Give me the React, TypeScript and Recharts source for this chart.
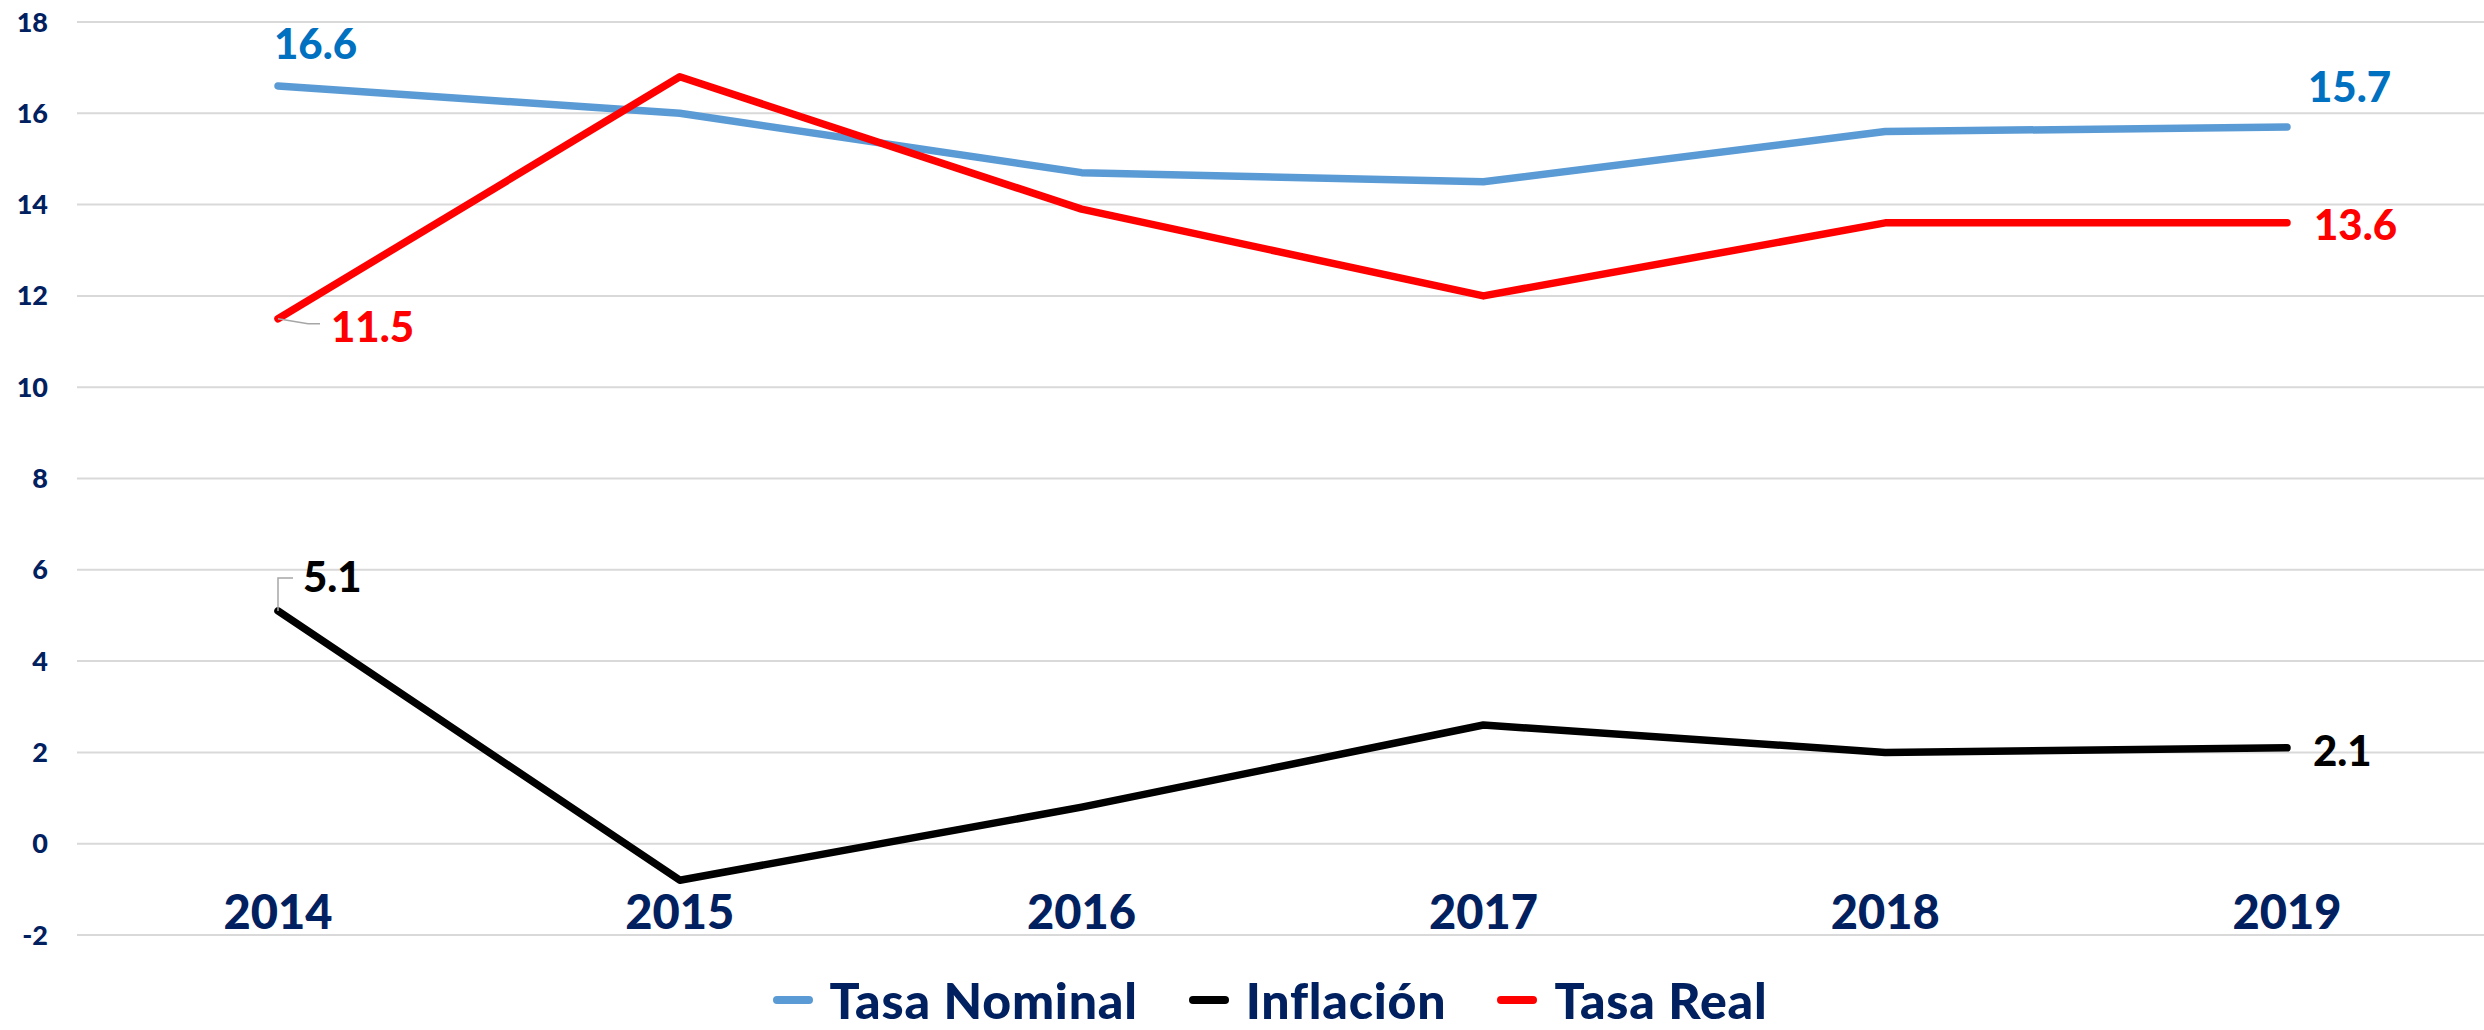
import React from 'react';
import { LineChart, Line, XAxis, YAxis, CartesianGrid, Legend, LabelList } from 'recharts';

const years = ['2014', '2015', '2016', '2017', '2018', '2019'];
const tasaNominal = [16.6, 16.0, 14.7, 14.5, 15.6, 15.7];
const inflacion = [5.1, -0.8, 0.8, 2.6, 2.0, 2.1];
const tasaReal = [11.5, 16.8, 13.9, 12.0, 13.6, 13.6];
const yTicks = [-2, 0, 2, 4, 6, 8, 10, 12, 14, 16, 18];

const data = years.map((y, i) => ({
  year: y,
  nominal: tasaNominal[i],
  inflacion: inflacion[i],
  real: tasaReal[i],
}));

const FONT = 'Lato, "Open Sans", sans-serif';
const NAVY = '#002060';
const W = 900;

type LabelSpec = { dx: number; dy: number; leader?: string };

// leader spec: "dx1,dy1 dx2,dy2 ..." relative to the point
function buildPath(spec: string, x: number, y: number) {
  const pts = spec.split(' ').map((p) => p.split(',').map(Number));
  return `M${x},${y} ` + pts.map(([a, b]) => `L${x + a},${y + b}`).join(' ');
}

const makeLabel = (color: string, specs: Record<number, LabelSpec>) => (props: any) => {
  const { x, y, index, value } = props;
  const s = specs[index];
  if (!s || x == null || y == null) return null;
  return (
    <g>
      {s.leader ? <path d={buildPath(s.leader, x, y)} fill="none" stroke="#A6A6A6" strokeWidth={1.5} /> : null}
      <text x={x + s.dx} y={y + s.dy} fill={color} fontFamily={FONT} fontWeight={W} fontSize={42} textAnchor="start">
        {Number(value).toFixed(1)}
      </text>
    </g>
  );
};

const nominalLabel = makeLabel('#0070C0', {
  0: { dx: -4, dy: -27 },
  5: { dx: 21, dy: -25 },
});
const realLabel = makeLabel('#FF0000', {
  0: { dx: 53, dy: 23, leader: '30,5 42,5' },
  5: { dx: 27, dy: 17 },
});
const inflLabel = makeLabel('#000000', {
  0: { dx: 25, dy: -19, leader: '0,-33 15,-33' },
  5: { dx: 26, dy: 18 },
});

const XTick = (props: any) => {
  const { x, y, payload } = props;
  return (
    <text x={x} y={y - 6} textAnchor="middle" fill={NAVY} fontFamily={FONT} fontWeight={W} fontSize={47}>
      {payload.value}
    </text>
  );
};

const legendItems = [
  { name: 'Tasa Nominal', color: '#5B9BD5' },
  { name: 'Inflación', color: '#000000' },
  { name: 'Tasa Real', color: '#FF0000' },
];

const LegendContent = () => (
  <div
    style={{
      height: 65,
      display: 'flex',
      justifyContent: 'center',
      alignItems: 'flex-start',
      paddingLeft: 52,
      boxSizing: 'border-box',
    }}
  >
    {legendItems.map((it, i) => (
      <div key={it.name} style={{ display: 'flex', alignItems: 'center', marginLeft: i === 0 ? 0 : 51, paddingTop: 12 }}>
        <div style={{ width: 40, height: 8, borderRadius: 4, background: it.color, marginRight: 17 }} />
        <span style={{ fontFamily: FONT, fontWeight: W, fontSize: 50, lineHeight: '46px', color: NAVY, letterSpacing: 0.8 }}>{it.name}</span>
      </div>
    ))}
  </div>
);

export default function App() {
  return (
    <div style={{ position: 'fixed', left: 0, top: 0, width: 2484, height: 1030, overflow: 'hidden', background: '#fff' }}>
      <LineChart width={2488} height={1030} data={data} margin={{ top: 22, right: 0, left: 0, bottom: 0 }}>
        <CartesianGrid horizontal vertical={false} stroke="#D9D9D9" strokeWidth={2} />
        <XAxis
          dataKey="year"
          axisLine={false}
          tickLine={false}
          tickSize={0}
          tickMargin={0}
          height={30}
          padding={{ left: 201, right: 201 }}
          tick={<XTick />}
          interval={0}
        />
        <YAxis
          domain={[-2, 18]}
          ticks={yTicks}
          width={77}
          axisLine={false}
          tickLine={false}
          tickSize={0}
          tickMargin={29}
          tick={{ fill: NAVY, fontFamily: FONT, fontWeight: W, fontSize: 27 }}
          interval={0}
        />
        <Legend verticalAlign="bottom" height={65} content={<LegendContent />} />
        <Line
          type="linear"
          dataKey="nominal"
          name="Tasa Nominal"
          stroke="#5B9BD5"
          strokeWidth={7.5}
          strokeLinecap="round"
          strokeLinejoin="round"
          dot={false}
          activeDot={false}
          isAnimationActive={false}
        >
          <LabelList dataKey="nominal" content={nominalLabel} />
        </Line>
        <Line
          type="linear"
          dataKey="inflacion"
          name="Inflación"
          stroke="#000000"
          strokeWidth={7.5}
          strokeLinecap="round"
          strokeLinejoin="round"
          dot={false}
          activeDot={false}
          isAnimationActive={false}
        >
          <LabelList dataKey="inflacion" content={inflLabel} />
        </Line>
        <Line
          type="linear"
          dataKey="real"
          name="Tasa Real"
          stroke="#FF0000"
          strokeWidth={7.5}
          strokeLinecap="round"
          strokeLinejoin="round"
          dot={false}
          activeDot={false}
          isAnimationActive={false}
        >
          <LabelList dataKey="real" content={realLabel} />
        </Line>
      </LineChart>
    </div>
  );
}
